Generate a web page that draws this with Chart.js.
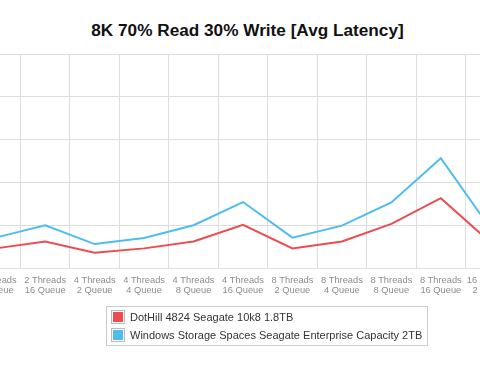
<!DOCTYPE html>
<html>
<head>
<meta charset="utf-8">
<script src="https://cdn.jsdelivr.net/npm/chart.js@4/dist/chart.umd.min.js"></script>
<style>
  html, body { margin: 0; padding: 0; background: #fff; overflow: hidden; width: 480px; height: 374px; }
  body { position: relative; font-family: "Liberation Sans", Arial, sans-serif; }
  #title { position: absolute; left: 0; width: 495px; top: 20px; text-align: center; font-weight: bold; font-size: 17.2px; color: #111; }
  #wrap { position: absolute; left: -29px; top: 50px; width: 544px; height: 257px; }
  #legend { position: absolute; left: 106px; top: 306px; width: 320px; height: 38px; border: 1px solid #ccc; font-size: 11px; color: #333; }
  .item { position: absolute; left: 4px; height: 14px; line-height: 14px; white-space: nowrap; }
  .sw { display: inline-block; width: 12px; height: 12px; border: 1px solid #bbb; vertical-align: top; position: relative; margin-right: 5px; }
  .sw span { position: absolute; left: 1px; top: 1px; width: 10px; height: 10px; }
</style>
</head>
<body>
<div id="title">8K 70% Read 30% Write [Avg Latency]</div>
<div id="wrap"><canvas id="latencyChart"></canvas></div>
<div id="legend"></div>
<script>
const categories = [
  ['2 Threads', '8 Queue'], ['2 Threads', '16 Queue'],
  ['4 Threads', '2 Queue'], ['4 Threads', '4 Queue'], ['4 Threads', '8 Queue'], ['4 Threads', '16 Queue'],
  ['8 Threads', '2 Queue'], ['8 Threads', '4 Queue'], ['8 Threads', '8 Queue'], ['8 Threads', '16 Queue'],
  ['16 Threads', '2 Queue']
];
const seriesNames = ['DotHill 4824 Seagate 10k8 1.8TB', 'Windows Storage Spaces Seagate Enterprise Capacity 2TB'];
const seriesColors = ['#ee4b4f', '#4dbdf0'];
const dotHill = [4.7, 6.3, 3.7, 4.7, 6.3, 10.2, 4.7, 6.3, 10.4, 16.4, 6.1];
const storageSpaces = [7.2, 10.1, 5.7, 7.1, 10.1, 15.5, 7.2, 10.0, 15.4, 25.7, 9.4];
const yTicks = [0, 10, 20, 30, 40, 50];

const legendEl = document.getElementById('legend');
legendEl.innerHTML = seriesNames.map((name, i) => `
  <div class="item" style="top:${3 + i * 18}px"><span class="sw"><span style="background:${seriesColors[i]}"></span></span>${name}</div>
`).join('');

const ctx = document.getElementById('latencyChart').getContext('2d');
new Chart(ctx, {
  type: 'line',
  data: {
    labels: categories,
    datasets: [
      { label: seriesNames[0], data: dotHill, borderColor: seriesColors[0], backgroundColor: seriesColors[0], borderWidth: 2, pointRadius: 0, tension: 0 },
      { label: seriesNames[1], data: storageSpaces, borderColor: seriesColors[1], backgroundColor: seriesColors[1], borderWidth: 2, pointRadius: 0, tension: 0 }
    ]
  },
  options: {
    responsive: true,
    maintainAspectRatio: false,
    animation: false,
    layout: { padding: { top: 4, bottom: 4, left: 0, right: 0 } },
    plugins: { legend: { display: false }, title: { display: false }, tooltip: { enabled: false } },
    scales: {
      x: {
        offset: true,
        // labels never overflow, keep the plot edge to edge
        afterFit: scale => { scale.paddingLeft = 0; scale.paddingRight = 0; },
        grid: { color: '#dddddd', drawTicks: false, offset: true },
        border: { color: '#dddddd' },
        ticks: {
          autoSkip: false, maxRotation: 0, minRotation: 0, padding: 7,
          color: '#8c8c8c',
          font: { family: '"Liberation Sans", Arial, sans-serif', size: 9.3, lineHeight: 1.1 }
        }
      },
      y: {
        min: yTicks[0], max: yTicks[yTicks.length - 1],
        afterBuildTicks: axis => { axis.ticks = yTicks.map(v => ({ value: v })); },
        grid: { color: '#dddddd', drawTicks: false },
        border: { display: false },
        ticks: { display: false }
      }
    }
  }
});
</script>
</body>
</html>
